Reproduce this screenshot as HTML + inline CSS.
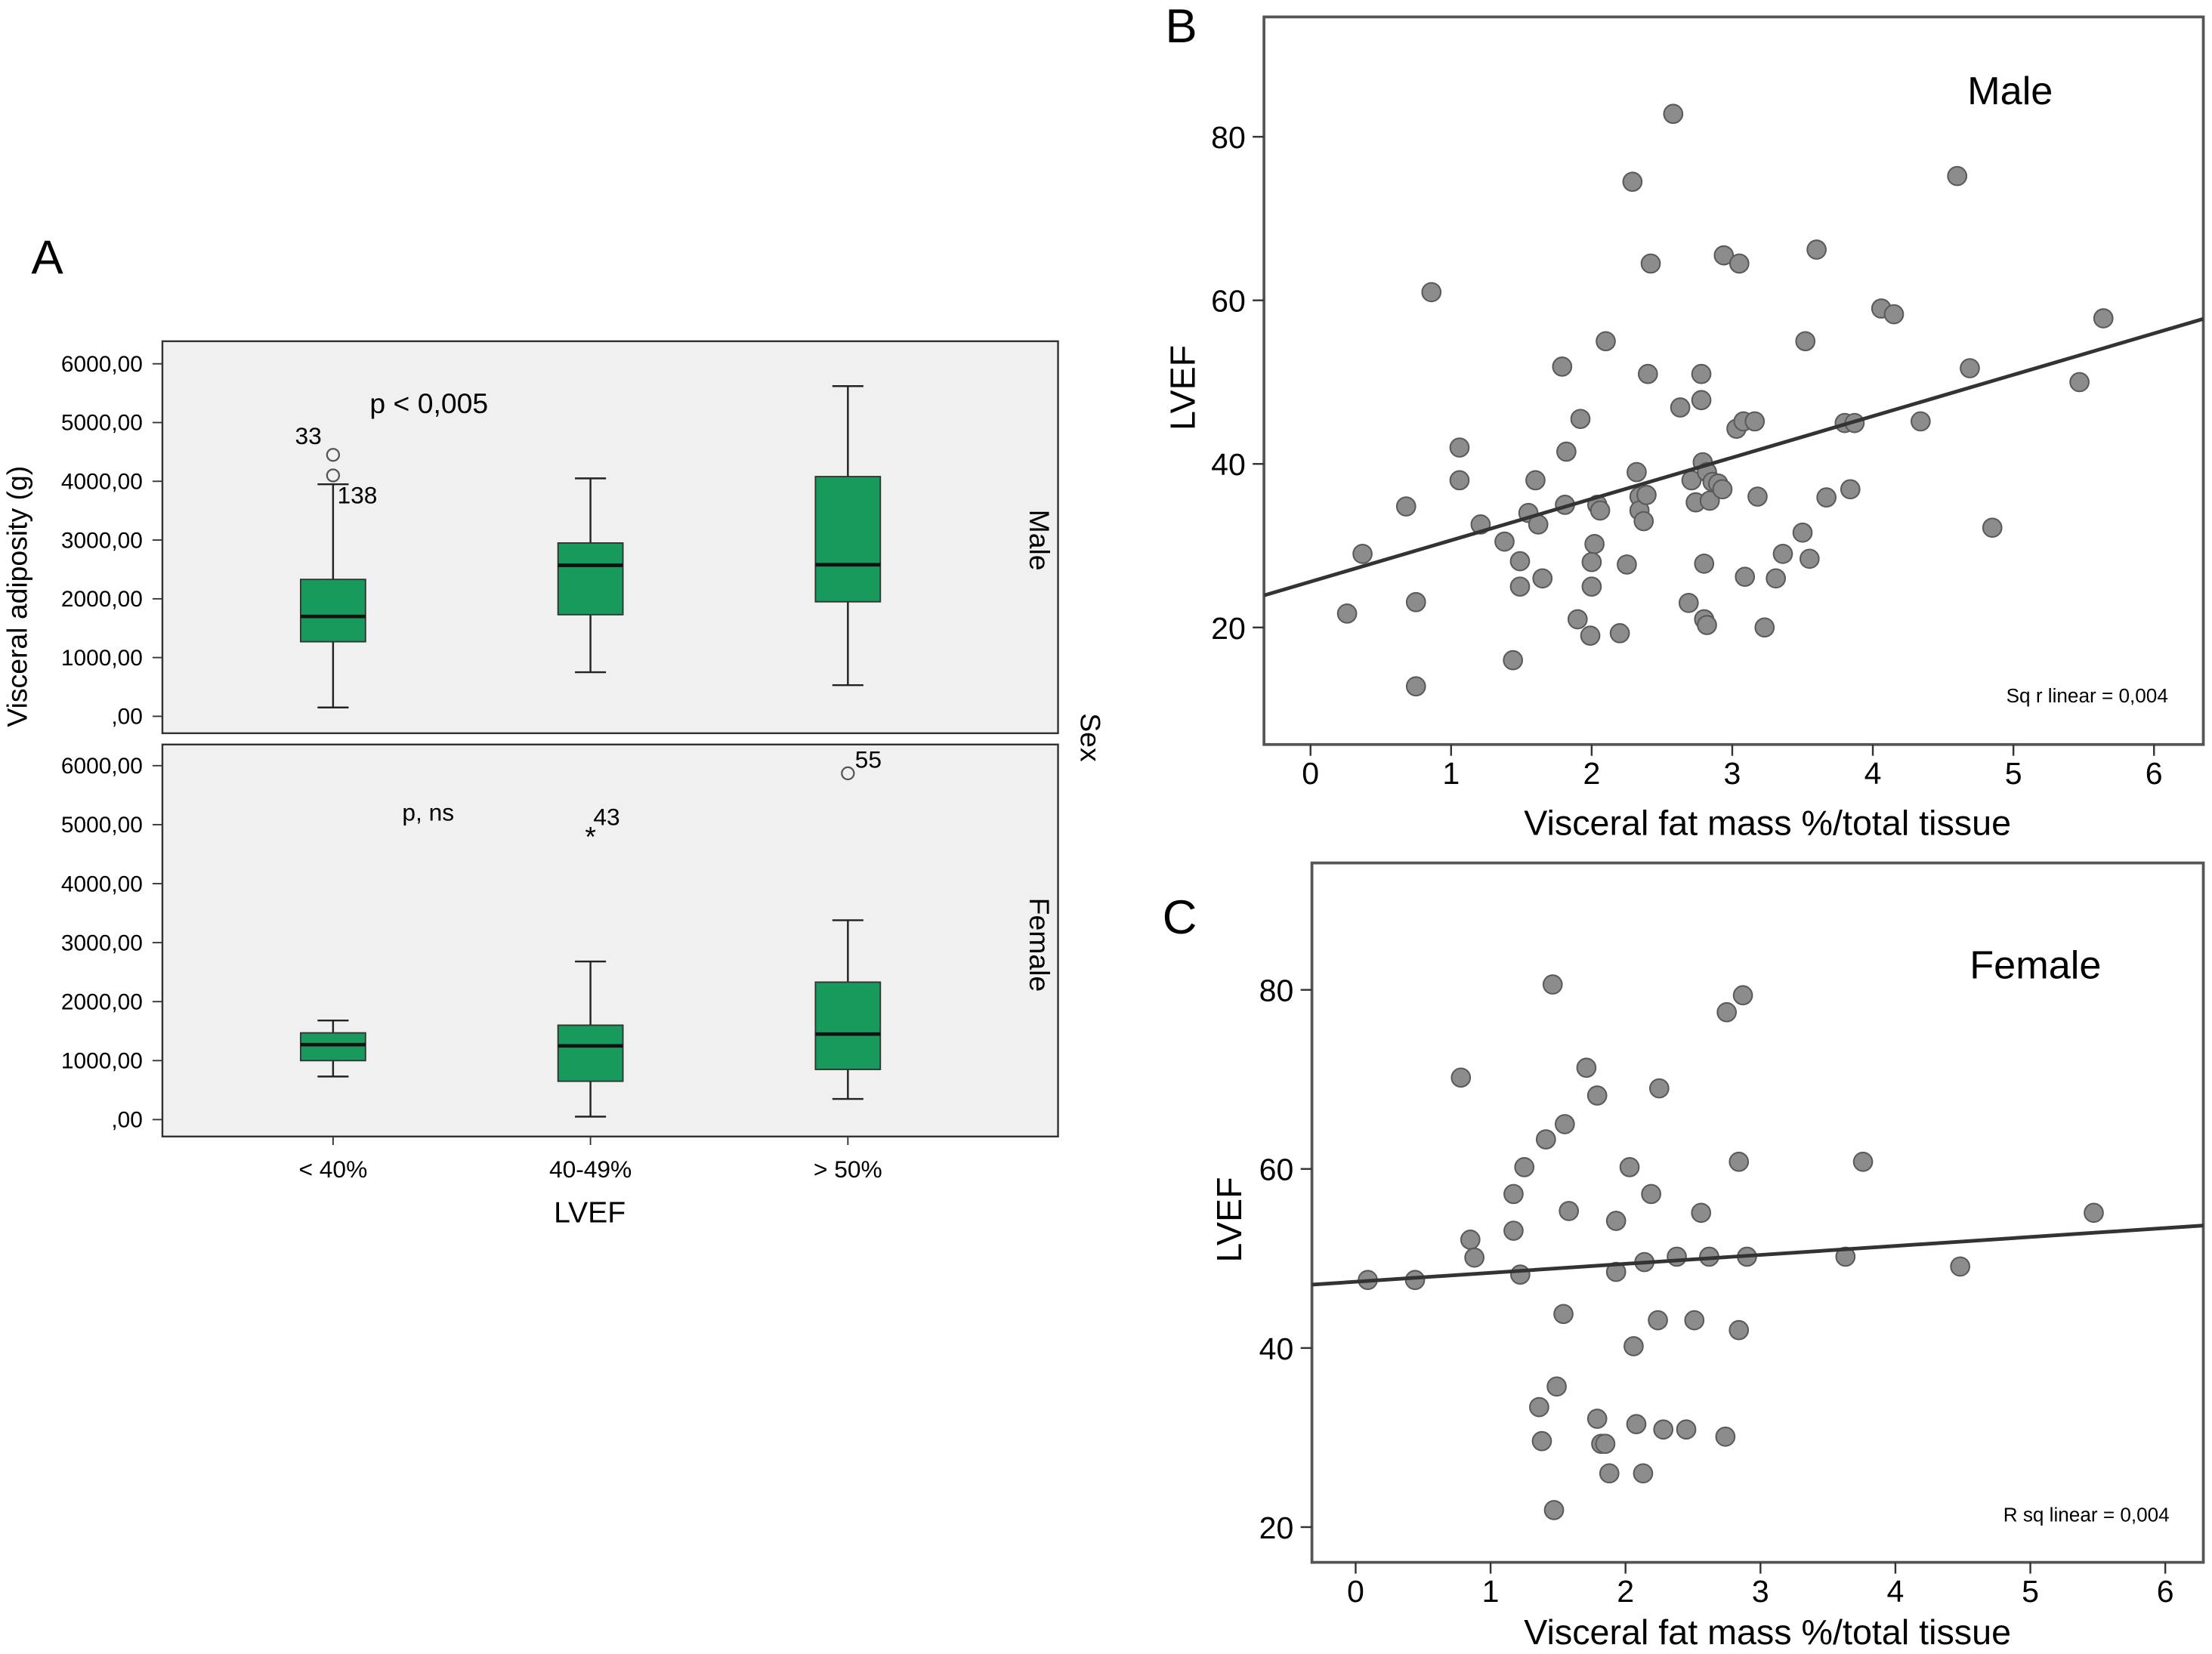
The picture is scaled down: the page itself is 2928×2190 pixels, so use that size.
<!DOCTYPE html>
<html><head><meta charset="utf-8"><style>
html,body{margin:0;padding:0;background:#fff;}
svg{display:block;font-family:"Liberation Sans Narrow","Liberation Sans",sans-serif;}
</style></head><body>
<svg id="fig" width="2928" height="2190" viewBox="0 0 1568 1173" xmlns="http://www.w3.org/2000/svg">
<rect width="1568" height="1173" fill="#fff"/>
<text x="22" y="194" font-size="34">A</text>
<text x="826" y="30" font-size="34">B</text>
<text x="824" y="662" font-size="34">C</text>
<g id="pa"></g><g id="pb"></g><g id="pc"></g>
</svg>
<script>
const NS="http://www.w3.org/2000/svg";
function mk(parent,tag,attrs,text){const e=document.createElementNS(NS,tag);for(const k in attrs)e.setAttribute(k,attrs[k]);if(text!==undefined)e.textContent=text;parent.appendChild(e);return e;}

// ---------- Panel A data ----------
const catsA=["< 40%","40-49%","> 50%"];
const yTicksA=[0,1000,2000,3000,4000,5000,6000];
const yTickLabelsA=[",00","1000,00","2000,00","3000,00","4000,00","5000,00","6000,00"];
// [low whisker, q1, median, q3, high whisker]
const maleBoxes=[[150,1270,1700,2330,3950],[750,1730,2570,2950,4050],[530,1950,2580,4080,5620]];
const femaleBoxes=[[730,1000,1270,1470,1680],[50,650,1250,1600,2680],[350,850,1450,2330,3380]];
const maleOutliers=[[0,4450,"33"],[0,4100,"138"]];
const femaleOutliers=[[2,5870,"55"]];
const femaleExtremes=[[1,4870,"43"]];

const pa=document.getElementById('pa');
const catX=i=>236+i*182.5;
function drawFacet(top,bottom,y0,y6,boxes,name){
  const g=mk(pa,'g',{});
  
  
  const r=mk(g,'rect',{x:115,y:top,width:635,height:bottom-top,fill:'#f0f0f0',stroke:'#333','stroke-width':1.3});
  
  
  const yS=v=>y0+(y6-y0)*v/6000;
  yTicksA.forEach((v,i)=>{
    const y=yS(v);
    mk(g,'line',{x1:108,x2:115,y1:y,y2:y,stroke:'#333'});
    const t=mk(g,'text',{x:101,y:y+5.5,'font-size':16,'text-anchor':'end'},yTickLabelsA[i]);
    
    
  });
  boxes.forEach((b,i)=>{
    const cx=catX(i),w=46;
    const bg=mk(g,'g',{});
    
    
    mk(bg,'line',{x1:cx,x2:cx,y1:yS(b[0]),y2:yS(b[4]),stroke:'#222','stroke-width':1.3});
    mk(bg,'line',{x1:cx-11,x2:cx+11,y1:yS(b[0]),y2:yS(b[0]),stroke:'#222','stroke-width':1.3});
    mk(bg,'line',{x1:cx-11,x2:cx+11,y1:yS(b[4]),y2:yS(b[4]),stroke:'#222','stroke-width':1.3});
    mk(bg,'rect',{x:cx-w/2,y:yS(b[3]),width:w,height:yS(b[1])-yS(b[3]),fill:'#179a5b',stroke:'#333','stroke-width':1});
    mk(bg,'line',{x1:cx-w/2,x2:cx+w/2,y1:yS(b[2]),y2:yS(b[2]),stroke:'#111','stroke-width':2.5});
  });
  return yS;
}
const yM=drawFacet(242,520,508,258,maleBoxes,'male');
const yF=drawFacet(528,806,794,543,femaleBoxes,'female');
maleOutliers.forEach(o=>{
  const c=mk(pa,'circle',{cx:catX(o[0]),cy:yM(o[1]),r:4.3,fill:'none',stroke:'#555','stroke-width':1.2});
  
  
});
mk(pa,'text',{x:209,y:315,'font-size':17},"33");
mk(pa,'text',{x:239,y:357,'font-size':17},"138");
femaleOutliers.forEach(o=>{
  const c=mk(pa,'circle',{cx:catX(o[0]),cy:yF(o[1]),r:4.3,fill:'none',stroke:'#555','stroke-width':1.2});
  
  
  mk(pa,'text',{x:catX(o[0])+5,y:yF(o[1])-4,'font-size':17},o[2]);
});
femaleExtremes.forEach(o=>{
  const t=mk(pa,'text',{x:catX(o[0]),y:yF(o[1])+10,'font-size':20,'text-anchor':'middle'},"*");
  
  
  mk(pa,'text',{x:catX(o[0])+2,y:yF(o[1])-5,'font-size':17},o[2]);
});
catsA.forEach((c,i)=>{
  mk(pa,'line',{x1:catX(i),x2:catX(i),y1:806,y2:812,stroke:'#333'});
  const t=mk(pa,'text',{x:catX(i),y:835,'font-size':17,'text-anchor':'middle'},c);
  
  
});
let t;
t=mk(pa,'text',{x:262,y:293,'font-size':20},"p < 0,005");
t=mk(pa,'text',{x:285,y:582,'font-size':17},"p, ns");
t=mk(pa,'text',{x:418,y:867,'font-size':21,'text-anchor':'middle'},"LVEF");
t=mk(pa,'text',{x:0,y:0,'font-size':20,'text-anchor':'middle',transform:'translate(19,423) rotate(-90)'},"Visceral adiposity (g)");
t=mk(pa,'text',{x:0,y:0,'font-size':20,'text-anchor':'middle',transform:'translate(730,383) rotate(90)'},"Male");
t=mk(pa,'text',{x:0,y:0,'font-size':20,'text-anchor':'middle',transform:'translate(730,670) rotate(90)'},"Female");
t=mk(pa,'text',{x:0,y:0,'font-size':20,'text-anchor':'middle',transform:'translate(766,523) rotate(90)'},"Sex");

// ---------- Panel B data ----------
const xTicks=[0,1,2,3,4,5,6];
const yTicksB=[20,40,60,80];
const maleX=[0.26,0.37,0.68,0.75,0.75,0.86,1.06,1.06,1.21,1.38,1.44,1.49,1.49,1.55,1.6,1.62,1.65,1.81,1.82,1.79,1.92,1.9,2.02,2.0,2.0,1.99,2.04,2.06,2.1,2.2,2.25,2.29,2.32,2.34,2.34,2.37,2.4,2.39,2.42,2.58,2.63,2.69,2.71,2.74,2.8,2.82,2.78,2.78,2.79,2.82,2.84,2.8,2.86,2.9,2.93,2.94,3.05,3.03,3.08,3.16,3.09,3.18,3.23,3.31,3.36,3.5,3.55,3.52,3.6,3.67,3.8,3.87,3.84,4.06,4.15,4.34,4.6,4.69,4.85,5.47,5.64];
const maleY=[21.7,29,34.8,23.1,12.8,61,42,38,32.6,30.5,16,28.1,25,34,38,32.6,26,35,41.5,51.9,45.5,21,30.2,28,25,19,35,34.3,55,19.3,27.7,74.5,39,36,34.3,33,51,36.2,64.5,82.8,46.9,23,38,35.3,21,20.3,51,47.8,40.2,39,35.5,27.8,37.8,37.6,36.9,65.5,64.5,44.3,45.2,45.2,26.2,36,20,26,29,31.6,28.4,55,66.2,35.9,45,45,36.9,59,58.3,45.2,75.2,51.7,32.2,50,57.8];
const maleFit=[25.6,5.06]; // intercept, slope

const femaleX=[0.09,0.44,0.78,0.85,0.88,1.17,1.17,1.22,1.25,1.41,1.36,1.38,1.46,1.47,1.49,1.54,1.55,1.58,1.71,1.79,1.79,1.82,1.85,1.88,1.93,1.93,2.03,2.06,2.08,2.14,2.13,2.19,2.24,2.25,2.28,2.38,2.45,2.51,2.56,2.62,2.74,2.75,2.84,2.84,2.87,2.9,3.63,3.76,4.48,5.47];
const femaleY=[47.6,47.6,70.2,52.1,50.1,57.2,53.1,48.2,60.2,63.3,33.4,29.6,80.6,21.9,35.7,43.8,65,55.3,71.3,68.2,32.1,29.3,29.3,26,54.2,48.5,60.2,40.2,31.5,49.6,26,57.2,43.1,69,30.9,50.2,30.9,43.1,55.1,50.2,30.1,77.5,60.8,42,79.4,50.2,50.2,60.8,49.1,55.1];
const femaleFit=[47.4,1.0];

function scatter(gid,name,box,xs,ys,px,py,xVals,yVals,fit,title,titlePos,rsq,rsqPos,xTitleY,yTitleX){
  const g=document.getElementById(gid);
  
  
  const [L,T,R,B]=box;
  const xS=v=>xs[0]+(v-xs[1])*xs[2];
  const yS=v=>ys[0]-(v-ys[1])*ys[2];
  const cp='clip-'+gid;
  const cpe=mk(g,'clipPath',{id:cp});mk(cpe,'rect',{x:L,y:T,width:R-L,height:B-T});
  const fr=mk(g,'rect',{x:L,y:T,width:R-L,height:B-T,fill:'#fff',stroke:'#555','stroke-width':2});
  
  
  xTicks.forEach(v=>{
    mk(g,'line',{x1:xS(v),x2:xS(v),y1:B,y2:B+8,stroke:'#333','stroke-width':1.3});
    const t=mk(g,'text',{x:xS(v),y:B+28,'font-size':22,'text-anchor':'middle'},String(v));
    
    
  });
  yTicksB.forEach(v=>{
    mk(g,'line',{x1:L-8,x2:L,y1:yS(v),y2:yS(v),stroke:'#333','stroke-width':1.3});
    const t=mk(g,'text',{x:L-13,y:yS(v)+8,'font-size':22,'text-anchor':'end'},String(v));
    
    
  });
  const pg=mk(g,'g',{'clip-path':'url(#'+cp+')'});
  xVals.forEach((x,i)=>{
    const c=mk(pg,'circle',{cx:xS(x),cy:yS(yVals[i]),r:6.6,fill:'#8c8c8c',stroke:'#5a5a5a','stroke-width':1.1});
    
    
  });
  const x0=xs[1]-(xs[0]-L)/xs[2], x1=xs[1]+(R-xs[0])/xs[2];
  const ln=mk(pg,'line',{x1:xS(x0),y1:yS(fit[0]+fit[1]*x0),x2:xS(x1),y2:yS(fit[0]+fit[1]*x1),stroke:'#333','stroke-width':2.6});
  
  
  let t=mk(g,'text',{x:titlePos[0],y:titlePos[1],'font-size':28,'text-anchor':'middle'},title);
  
  t=mk(g,'text',{x:rsqPos[0],y:rsqPos[1],'font-size':14,'text-anchor':'end'},rsq);
  
  t=mk(g,'text',{x:1253,y:xTitleY,'font-size':25,'text-anchor':'middle'},"Visceral fat mass %/total tissue");
  
  t=mk(g,'text',{x:0,y:0,'font-size':25,'text-anchor':'middle',transform:'translate('+yTitleX+','+((T+B)/2+5)+') rotate(-90)'},"LVEF");
  
}
scatter('pb','male',[896,12,1562,528],[929,0,99.67],[445,20,5.8],0,0,maleX,maleY,maleFit,"Male",[1425,74],"Sq r linear = 0,004",[1537,498],592,847);
scatter('pc','female',[930,612,1562,1108],[961,0,95.67],[1083,20,6.35],0,0,femaleX,femaleY,femaleFit,"Female",[1443,694],"R sq linear = 0,004",[1538,1079],1166,880);
</script>
</body></html>
